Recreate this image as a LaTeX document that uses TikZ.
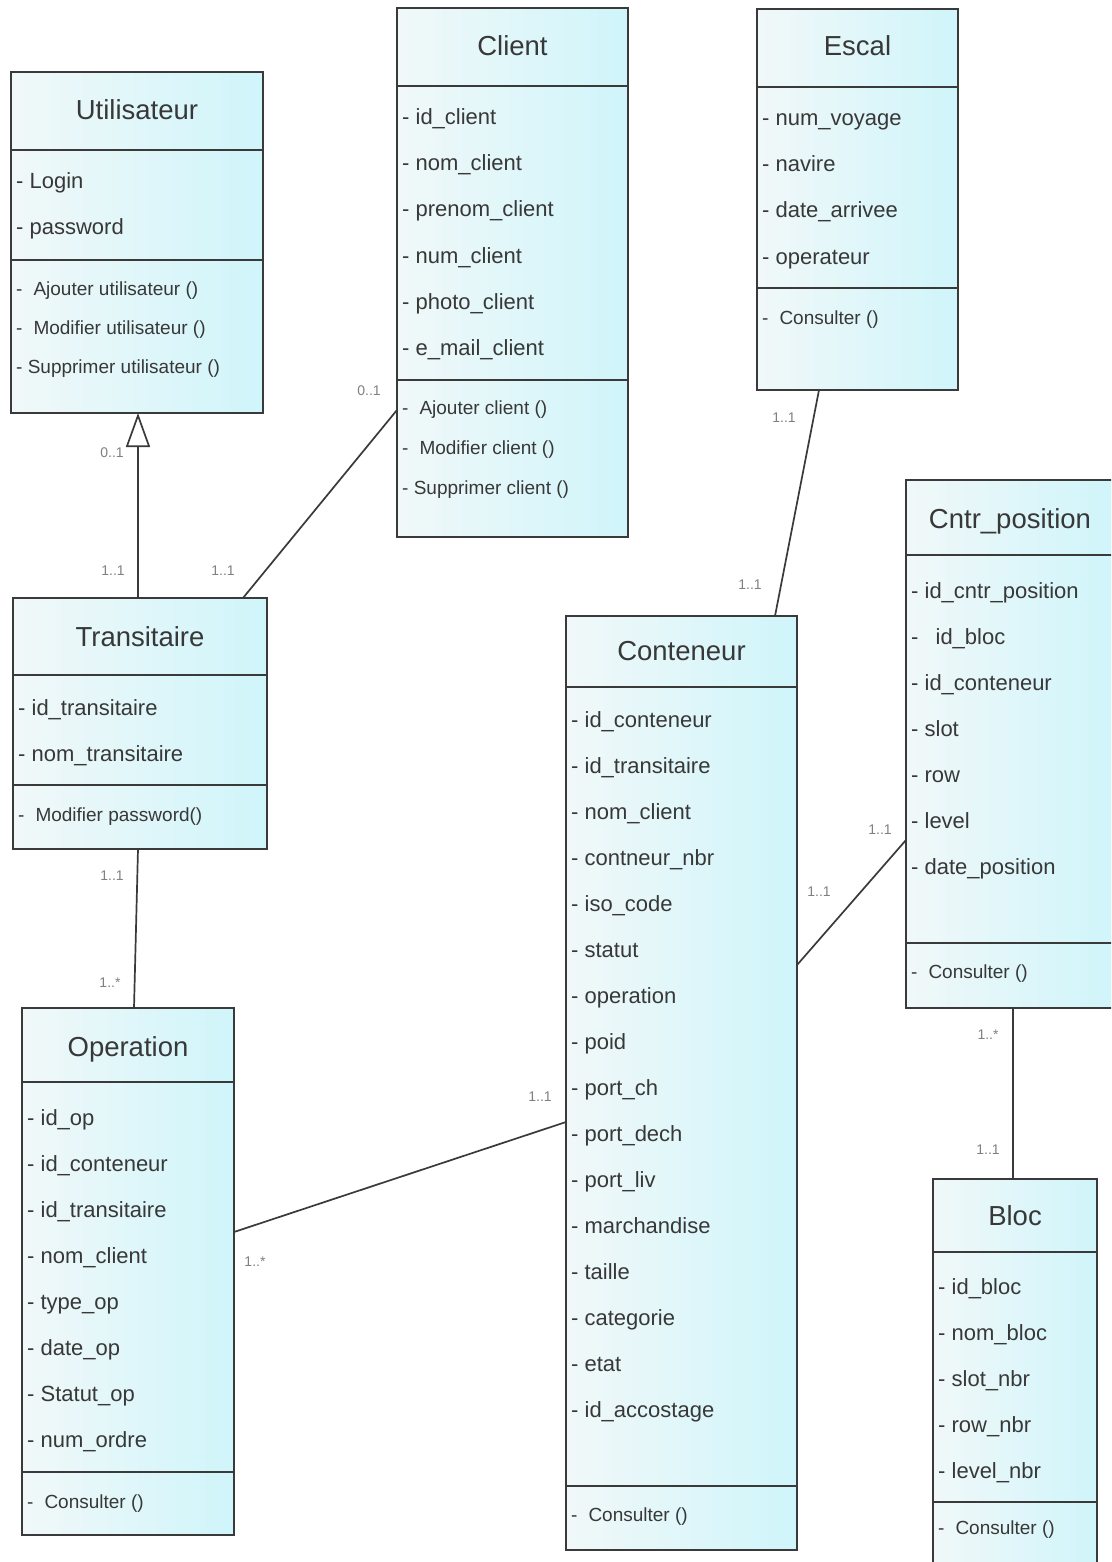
\documentclass[tikz,border=0pt]{standalone}
\usepackage{fontspec}
\setmainfont{Liberation Sans}
\usetikzlibrary{arrows.meta}

\definecolor{ink}{HTML}{383838}
\definecolor{edgegray}{HTML}{3A3A3A}
\definecolor{boxleft}{HTML}{F1F8F9}
\definecolor{boxright}{HTML}{CFF5FA}
\definecolor{multgray}{HTML}{808080}

\tikzset{
  cbox/.style={draw=edgegray, line width=1.8pt, left color=boxleft, right color=boxright,
               inner sep=0pt, outer sep=0pt, anchor=north west},
  sepline/.style={draw=edgegray, line width=2pt},
  ctitle/.style={font=\fontsize{27.5}{30}\selectfont, text=ink, anchor=base, inner sep=0pt},
  attr/.style={font=\fontsize{22}{24}\selectfont, text=ink, anchor=base west, inner sep=0pt},
  meth/.style={font=\fontsize{19}{21}\selectfont, text=ink, anchor=base west, inner sep=0pt},
  mlabel/.style={font=\fontsize{14}{15}\selectfont, text=multgray, inner sep=0pt},
  conn/.style={draw=edgegray, line width=1.7pt},
}

% class frame: name, x1, y1, x2, y2, title separator, attribute separator
\newcommand{\umlbox}[7]{%
  \node[cbox, minimum width={#4-#2}, minimum height={#5-#3}] (#1) at (#2,#3) {};
  \draw[sepline] (#2,#6) -- (#4,#6);
  \draw[sepline] (#2,#7) -- (#4,#7);
}
\newcommand{\mgap}{\hspace{11pt}}

\begin{document}
\begin{tikzpicture}[x=1pt,y=-1pt]
\useasboundingbox (0,0) rectangle (1111,1562);
\fill[white] (0,0) rectangle (1111,1562);
\clip (0,0) rectangle (1111,1562);

% ---------- Utilisateur ----------
\umlbox{util}{11}{72}{263}{413}{150}{260}
\node[ctitle] (util-t) at (137,120) {Utilisateur};
\node[attr] (util-a0) at (16,189) {- Login};
\node[attr] (util-a1) at (16,235) {- password};
\node[meth] (util-m0) at (16,295) {-\mgap Ajouter utilisateur ()};
\node[meth] (util-m1) at (16,334) {-\mgap Modifier utilisateur ()};
\node[meth] (util-m2) at (16,373) {- Supprimer utilisateur ()};

% ---------- Client ----------
\umlbox{client}{397}{8}{628}{537}{86}{380}
\node[ctitle] (client-t) at (512.5,56) {Client};
\foreach \t [count=\i from 0] in {id\_client, nom\_client, prenom\_client, num\_client, photo\_client, e\_mail\_client}
  \node[attr] (client-a\i) at (402,{125+46*\i}) {- \t};
\node[meth] (client-m0) at (402,414) {-\mgap Ajouter client ()};
\node[meth] (client-m1) at (402,454) {-\mgap Modifier client ()};
\node[meth] (client-m2) at (402,494) {- Supprimer client ()};

% ---------- Escal ----------
\umlbox{escal}{757}{9}{958}{390}{87}{288}
\node[ctitle] (escal-t) at (857.5,56) {Escal};
\foreach \t [count=\i from 0] in {num\_voyage, navire, date\_arrivee, operateur}
  \node[attr] (escal-a\i) at (762,{126+46*\i}) {- \t};
\node[meth] (escal-m0) at (762,324) {-\mgap Consulter ()};

% ---------- Cntr_position ----------
\umlbox{cpos}{906}{480}{1114}{1008}{555}{943}
\node[ctitle] (cpos-t) at (1010,528) {Cntr\_position};
\foreach \t [count=\i from 0] in {id\_cntr\_position, \mgap id\_bloc, id\_conteneur, slot, row, level, date\_position}
  \node[attr] (cpos-a\i) at (911,{598+46*\i}) {- \t};
\node[meth] (cpos-m0) at (911,978) {-\mgap Consulter ()};

% ---------- Transitaire ----------
\umlbox{tra}{13}{598}{267}{849}{675}{785}
\node[ctitle] (tra-t) at (140,646) {Transitaire};
\node[attr] (tra-a0) at (18,715) {- id\_transitaire};
\node[attr] (tra-a1) at (18,761) {- nom\_transitaire};
\node[meth] (tra-m0) at (18,821) {-\mgap Modifier password()};

% ---------- Conteneur ----------
\umlbox{cont}{566}{616}{797}{1550}{687}{1486}
\node[ctitle] (cont-t) at (681.5,660) {Conteneur};
\foreach \t [count=\i from 0] in {id\_conteneur, id\_transitaire, nom\_client, contneur\_nbr, iso\_code, statut, operation, poid, port\_ch, port\_dech, port\_liv, marchandise, taille, categorie, etat, id\_accostage}
  \node[attr] (cont-a\i) at (571,{727+46*\i}) {- \t};
\node[meth] (cont-m0) at (571,1521) {-\mgap Consulter ()};

% ---------- Operation ----------
\umlbox{op}{22}{1008}{234}{1535}{1082}{1472}
\node[ctitle] (op-t) at (128,1056) {Operation};
\foreach \t [count=\i from 0] in {id\_op, id\_conteneur, id\_transitaire, nom\_client, type\_op, date\_op, Statut\_op, num\_ordre}
  \node[attr] (op-a\i) at (27,{1125+46*\i}) {- \t};
\node[meth] (op-m0) at (27,1508) {-\mgap Consulter ()};

% ---------- Bloc ----------
\umlbox{bloc}{933}{1179}{1097}{1572}{1252}{1502}
\node[ctitle] (bloc-t) at (1015,1225) {Bloc};
\foreach \t [count=\i from 0] in {id\_bloc, nom\_bloc, slot\_nbr, row\_nbr, level\_nbr}
  \node[attr] (bloc-a\i) at (938,{1294+46*\i}) {- \t};
\node[meth] (bloc-m0) at (938,1534) {-\mgap Consulter ()};

% ---------- connectors ----------
\draw[conn, -{Triangle[open, width=24pt, length=34pt, line width=1.7pt]}]
  (tra.north -| 138,0) -- (util.south -| 138,0);
\draw[conn] (tra.north -| 243,0) -- (client.west |- 0,410);
\draw[conn] (escal.south -| 819,0) -- (cont.north -| 775,0);
\draw[conn] (tra.south -| 138,0) -- (op.north -| 134,0);
\draw[conn] (cont.east |- 0,965) -- (cpos.west |- 0,840);
\draw[conn] (op.east |- 0,1232) -- (cont.west |- 0,1122);
\draw[conn] (cpos.south -| 1013,0) -- (bloc.north -| 1013,0);

% ---------- multiplicities ----------
\node[mlabel] (m1)  at (112,453)  {0..1};
\node[mlabel] (m2)  at (113,571)  {1..1};
\node[mlabel] (m3)  at (223,571)  {1..1};
\node[mlabel] (m4)  at (369,391)  {0..1};
\node[mlabel] (m5)  at (784,418)  {1..1};
\node[mlabel] (m6)  at (750,585)  {1..1};
\node[mlabel] (m7)  at (112,876)  {1..1};
\node[mlabel] (m8)  at (110,983)  {1..*};
\node[mlabel] (m9)  at (819,892)  {1..1};
\node[mlabel] (m10) at (880,830)  {1..1};
\node[mlabel] (m11) at (540,1097) {1..1};
\node[mlabel] (m12) at (255,1262) {1..*};
\node[mlabel] (m13) at (988,1035) {1..*};
\node[mlabel] (m14) at (988,1150) {1..1};
\end{tikzpicture}
\end{document}
